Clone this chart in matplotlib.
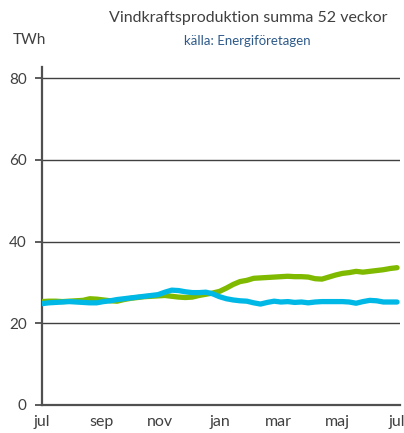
import matplotlib
matplotlib.use("Agg")
import matplotlib.pyplot as plt
import numpy as np

plt.rcParams['font.family'] = ['Lato', 'DejaVu Sans']

title = "Vindkraftsproduktion summa 52 veckor"
subtitle = "källa: Energiföretagen"
ylabel = "TWh"
month_labels = ["jul", "sep", "nov", "jan", "mar", "maj", "jul"]
month_pos = [0, 2, 4, 6, 8, 10, 12]
yticks = [0, 20, 40, 60, 80]

green = [25.3, 25.4, 25.4, 25.3, 25.4, 25.5, 25.6, 26.0, 25.9, 25.7,
         25.5, 25.4, 25.8, 26.1, 26.3, 26.5, 26.6, 26.7, 26.8, 26.6,
         26.4, 26.3, 26.4, 26.8, 27.1, 27.4, 27.8, 28.6, 29.5, 30.2,
         30.5, 31.0, 31.1, 31.2, 31.3, 31.4, 31.5, 31.4, 31.4, 31.3,
         30.9, 30.8, 31.3, 31.8, 32.2, 32.4, 32.7, 32.5, 32.7, 32.9,
         33.1, 33.4, 33.6]
blue = [24.8, 25.0, 25.1, 25.2, 25.3, 25.2, 25.1, 25.0, 25.0, 25.3,
        25.5, 25.8, 26.0, 26.2, 26.4, 26.6, 26.8, 27.0, 27.6, 28.1,
        28.0, 27.7, 27.5, 27.5, 27.6, 27.2, 26.5, 26.0, 25.7, 25.5,
        25.4, 25.0, 24.7, 25.1, 25.4, 25.2, 25.3, 25.1, 25.2, 25.0,
        25.2, 25.3, 25.3, 25.3, 25.3, 25.2, 24.9, 25.3, 25.6, 25.5,
        25.2, 25.2, 25.2]

weeks = np.arange(len(green)) * 12.0 / (len(green) - 1)

fig = plt.figure(figsize=(4.04, 4.33), dpi=100)
ax = fig.add_axes([42/404, 1 - 405/433, 358/404, 338/433])

for y in yticks[1:]:
    ax.axhline(y, color="#404040", lw=1.0, zorder=1)

ax.plot(weeks, green, color="#7fba00", lw=3.8, solid_capstyle="round", zorder=3)
ax.plot(weeks, blue, color="#00b8e6", lw=3.8, solid_capstyle="round", zorder=4)

ax.set_xlim(0, 12.1)
ax.set_ylim(0, 82.7)
ax.set_yticks(yticks)
ax.set_yticklabels([str(v) for v in yticks], fontsize=11, color="#404040")
ax.set_xticks(month_pos)
ax.set_xticklabels(month_labels, fontsize=11.5, color="#404040")
ax.tick_params(axis="x", length=0, pad=7)
ax.tick_params(axis="y", length=5, width=1.2, color="#404040", direction="out", pad=6)
for s in ["top", "right"]:
    ax.spines[s].set_visible(False)
ax.spines["left"].set_color("#505050")
ax.spines["left"].set_linewidth(1.6)
ax.spines["bottom"].set_color("#505050")
ax.spines["bottom"].set_linewidth(1.6)

fig.text(248/404, 1 - 18/433, title, ha="center", va="center", fontsize=11.5, color="#404040")
fig.text(247/404, 1 - 41/433, subtitle, ha="center", va="center", fontsize=9.5, color="#2e5a8a")
fig.text(29/404, 1 - 40/433, ylabel, ha="center", va="center", fontsize=11, color="#404040")

fig.savefig("out.png", dpi=100)
